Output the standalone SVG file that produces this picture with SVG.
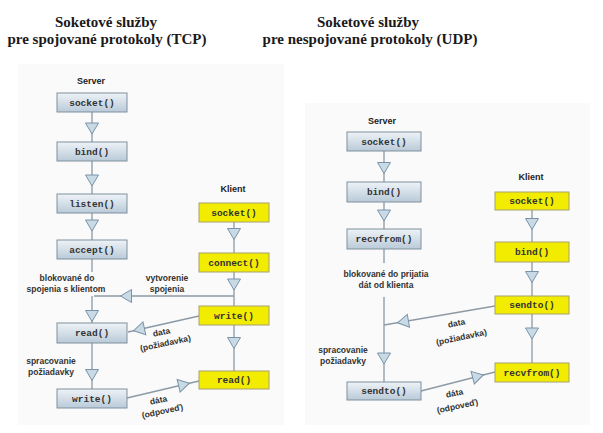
<svg xmlns="http://www.w3.org/2000/svg" width="603" height="433" viewBox="0 0 603 433">
<defs>
<linearGradient id="srv" x1="0" y1="0" x2="0" y2="1">
<stop offset="0" stop-color="#eef3f7"/>
<stop offset="1" stop-color="#b9cad8"/>
</linearGradient>
<path id="tri" d="M-6.5,-5.5 L6.5,-5.5 L0,5.5 Z" class="tri"/>
</defs>
<style>
.title{font-family:"Liberation Serif",serif;font-weight:bold;font-size:15px;fill:#1a1a1a;text-anchor:middle}
.hd{font-family:"Liberation Sans",Arial,sans-serif;font-weight:bold;font-size:9px;fill:#222;text-anchor:middle}
.lb{font-family:"Liberation Sans",Arial,sans-serif;font-weight:bold;font-size:8.5px;fill:#333;text-anchor:middle}
.fn{font-family:"Liberation Mono","Courier New",monospace;font-weight:bold;font-size:9.5px;fill:#333;text-anchor:middle}
.s{fill:url(#srv);stroke:#7f8f9c;stroke-width:1}
.c{fill:#f2ec00;stroke:#a6a070;stroke-width:1}
.ln{stroke:#8d9aa5;stroke-width:1.3;fill:none}
.tri{fill:#c8dae6;stroke:#7a93a8;stroke-width:1}
.panel{fill:#fafafa}
</style>
<rect width="603" height="433" fill="#ffffff"/>
<rect class="panel" x="18" y="64" width="266" height="361"/>
<rect class="panel" x="305" y="103" width="285" height="322"/>

<text class="title" x="106" y="27">Soketové služby</text>
<text class="title" x="107" y="44">pre spojované protokoly (TCP)</text>
<text class="title" x="368" y="27">Soketové služby</text>
<text class="title" x="370" y="44">pre nespojované protokoly (UDP)</text>

<g id="connectors">
<!-- TCP server -->
<line class="ln" x1="92" y1="112" x2="92" y2="142"/>
<use href="#tri" x="92" y="128.5"/>
<line class="ln" x1="92" y1="161" x2="92" y2="194"/>
<use href="#tri" x="92" y="180.5"/>
<line class="ln" x1="92" y1="213" x2="92" y2="240"/>
<use href="#tri" x="92" y="225.5"/>
<line class="ln" x1="92" y1="259" x2="92" y2="272"/>
<line class="ln" x1="92" y1="296" x2="92" y2="323"/>
<use href="#tri" x="92" y="316"/>
<line class="ln" x1="92" y1="343" x2="92" y2="389"/>
<use href="#tri" x="92" y="375"/>
<!-- TCP client -->
<line class="ln" x1="234" y1="222" x2="234" y2="253"/>
<use href="#tri" x="234" y="234"/>
<line class="ln" x1="234" y1="272" x2="234" y2="306"/>
<use href="#tri" x="234" y="284.5"/>
<line class="ln" x1="234" y1="325" x2="234" y2="371"/>
<use href="#tri" x="234" y="343"/>
<line class="ln" x1="234" y1="296" x2="94" y2="296"/>
<use href="#tri" transform="translate(126 296) rotate(90)"/>
<line class="ln" x1="199" y1="316" x2="128" y2="332"/>
<use href="#tri" transform="translate(139 329.5) rotate(77.3)"/>
<line class="ln" x1="127" y1="398" x2="199" y2="381"/>
<use href="#tri" transform="translate(184 384.5) rotate(-103.3)"/>
<!-- UDP server -->
<line class="ln" x1="384" y1="151" x2="384" y2="182"/>
<use href="#tri" x="384" y="168"/>
<line class="ln" x1="384" y1="202" x2="384" y2="229"/>
<use href="#tri" x="384" y="215.5"/>
<line class="ln" x1="384" y1="249" x2="384" y2="263"/>
<line class="ln" x1="384" y1="297" x2="384" y2="382"/>
<use href="#tri" x="384" y="358.5"/>
<!-- UDP client -->
<line class="ln" x1="532" y1="210" x2="532" y2="242"/>
<use href="#tri" x="532" y="224"/>
<line class="ln" x1="532" y1="262" x2="532" y2="296"/>
<use href="#tri" x="532" y="277"/>
<line class="ln" x1="532" y1="314" x2="532" y2="363"/>
<use href="#tri" x="532" y="333.5"/>
<line class="ln" x1="495" y1="306" x2="384" y2="325"/>
<use href="#tri" transform="translate(403 321.8) rotate(80.3)"/>
<line class="ln" x1="421" y1="391" x2="495" y2="372"/>
<use href="#tri" transform="translate(478 376.3) rotate(-104.4)"/>
</g>

<!-- TCP labels -->
<text class="hd" x="91" y="84">Server</text>
<text class="hd" x="233" y="192">Klient</text>
<text class="lb" x="67" y="281">blokované do</text>
<text class="lb" x="66" y="292">spojenia s klientom</text>
<text class="lb" x="167" y="281">vytvorenie</text>
<text class="lb" x="167" y="292">spojenia</text>
<text class="lb" x="51" y="364">spracovanie</text>
<text class="lb" x="51" y="375">požiadavky</text>
<text class="lb" transform="translate(162 335) rotate(-12)">data</text>
<text class="lb" transform="translate(166 346) rotate(-12)">(požiadavka)</text>
<text class="lb" transform="translate(159 403) rotate(-12)">dáta</text>
<text class="lb" transform="translate(163 414) rotate(-12)">(odpoveď)</text>

<!-- UDP labels -->
<text class="hd" x="382" y="124">Server</text>
<text class="hd" x="531" y="180">Klient</text>
<text class="lb" x="386" y="277">blokované do prijatia</text>
<text class="lb" x="386" y="288">dát od klienta</text>
<text class="lb" x="343" y="353">spracovanie</text>
<text class="lb" x="343" y="364">požiadavky</text>
<text class="lb" transform="translate(457 326) rotate(-12)">data</text>
<text class="lb" transform="translate(462 340) rotate(-12)">(požiadavka)</text>
<text class="lb" transform="translate(455 396) rotate(-12)">dáta</text>
<text class="lb" transform="translate(458 409) rotate(-12)">(odpoveď)</text>

<g id="tcp-server-socket"><rect class="s" x="57" y="93" width="70" height="19"/><text class="fn" x="92" y="106">socket()</text></g>
<g id="tcp-server-bind"><rect class="s" x="57" y="142" width="70" height="19"/><text class="fn" x="92" y="155">bind()</text></g>
<g id="tcp-server-listen"><rect class="s" x="57" y="194" width="70" height="19"/><text class="fn" x="92" y="207">listen()</text></g>
<g id="tcp-server-accept"><rect class="s" x="57" y="240" width="70" height="19"/><text class="fn" x="92" y="253">accept()</text></g>
<g id="tcp-server-read"><rect class="s" x="57" y="323" width="70" height="20"/><text class="fn" x="92" y="336">read()</text></g>
<g id="tcp-server-write"><rect class="s" x="57" y="389" width="70" height="19"/><text class="fn" x="92" y="402">write()</text></g>
<g id="tcp-client-socket"><rect class="c" x="199" y="203" width="70" height="19"/><text class="fn" x="234" y="216">socket()</text></g>
<g id="tcp-client-connect"><rect class="c" x="199" y="253" width="70" height="19"/><text class="fn" x="234" y="266">connect()</text></g>
<g id="tcp-client-write"><rect class="c" x="199" y="306" width="70" height="19"/><text class="fn" x="234" y="319">write()</text></g>
<g id="tcp-client-read"><rect class="c" x="199" y="371" width="70" height="18"/><text class="fn" x="234" y="383">read()</text></g>

<g id="udp-server-socket"><rect class="s" x="347" y="132" width="74" height="19"/><text class="fn" x="384" y="145">socket()</text></g>
<g id="udp-server-bind"><rect class="s" x="347" y="182" width="74" height="20"/><text class="fn" x="384" y="195">bind()</text></g>
<g id="udp-server-recvfrom"><rect class="s" x="347" y="229" width="74" height="20"/><text class="fn" x="384" y="242">recvfrom()</text></g>
<g id="udp-server-sendto"><rect class="s" x="347" y="382" width="74" height="18"/><text class="fn" x="384" y="394">sendto()</text></g>
<g id="udp-client-socket"><rect class="c" x="495" y="192" width="74" height="18"/><text class="fn" x="532" y="204">socket()</text></g>
<g id="udp-client-bind"><rect class="c" x="495" y="242" width="74" height="20"/><text class="fn" x="532" y="255">bind()</text></g>
<g id="udp-client-sendto"><rect class="c" x="495" y="296" width="74" height="18"/><text class="fn" x="532" y="308">sendto()</text></g>
<g id="udp-client-recvfrom"><rect class="c" x="495" y="363" width="74" height="19"/><text class="fn" x="532" y="376">recvfrom()</text></g>
</svg>
